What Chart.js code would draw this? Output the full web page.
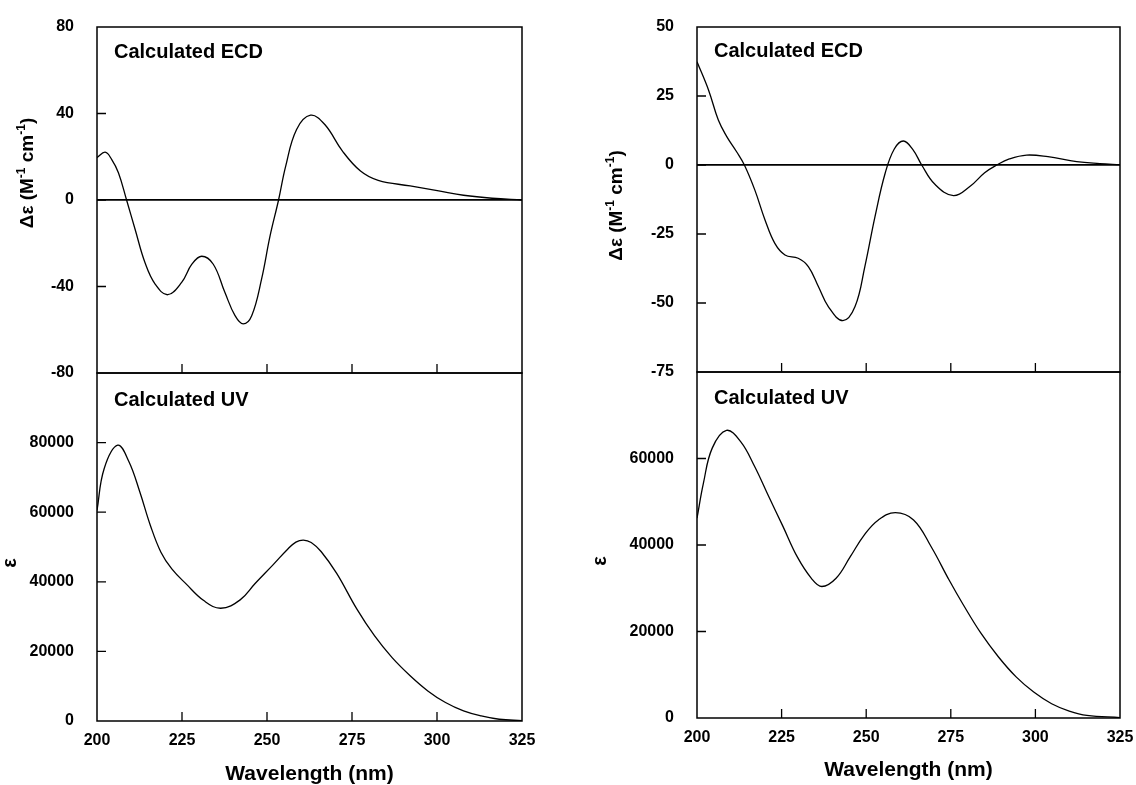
<!DOCTYPE html>
<html>
<head>
<meta charset="utf-8">
<script src="https://cdn.jsdelivr.net/npm/chart.js@4.4.1/dist/chart.umd.min.js"></script>
<style>
  html, body { margin: 0; padding: 0; background: #fff; }
  body { width: 1136px; height: 785px; position: relative; overflow: hidden; }
  canvas { position: absolute; top: 0; }
</style>
</head>
<body>
<canvas id="ecd-izq" width="560" height="785" style="left:0"></canvas>
<canvas id="uv-izq" width="560" height="785" style="left:0"></canvas>
<canvas id="ecd-der" width="576" height="785" style="left:560px"></canvas>
<canvas id="uv-der" width="576" height="785" style="left:560px"></canvas>
<script>
var lambdaEcdIzq = [200, 202.4, 204.3, 206.3, 208.7, 211.2, 214.1, 217.1, 220.8, 224.9, 227.9, 230.8, 234.2, 237.6, 240.6, 243.0, 245.5, 248.4, 250.9, 253.4, 255.5, 258.7, 262.8, 267.0, 272.2, 277.5, 282.7, 292.1, 300.5, 307.8, 316.2, 325];
var ecdIzq = [19.6, 22.1, 18.8, 12.6, 0, -13.5, -28.9, -38.9, -43.8, -38.1, -29.7, -26.0, -29.7, -42.7, -53.5, -57.3, -53.5, -36.6, -16.6, 0, 15.7, 32.6, 39.2, 34.9, 22.6, 13.4, 9.1, 6.5, 4.2, 2.2, 0.8, 0];

var lambdaUvIzq = [200, 202.1, 206.1, 209.4, 212.6, 215.7, 218.8, 222.0, 226.2, 231.4, 236.4, 242.1, 246.5, 251.9, 256.0, 258.5, 260.7, 263.0, 265.9, 270.5, 276.4, 281.6, 286.8, 292.1, 297.3, 302.5, 307.8, 313.0, 318.3, 325];
var uvIzq = [60500, 72500, 79250, 74500, 65800, 56200, 48500, 43700, 39400, 34600, 32400, 34800, 39500, 45000, 49300, 51400, 52000, 51300, 48700, 42400, 32200, 24500, 18200, 13000, 8650, 5300, 2900, 1450, 500, 100];

var lambdaEcdDer = [200, 203.4, 206.3, 208.8, 211.7, 214.0, 217.1, 220.1, 223.0, 226.0, 229.9, 232.9, 235.9, 238.8, 243.1, 246.7, 249.6, 252.6, 255.6, 258.3, 261.0, 263.8, 266.4, 270.3, 275.8, 280.8, 285.0, 288.6, 292.3, 297.4, 303.7, 312.2, 319.0, 325];
var ecdDer = [37.4, 27.2, 16.3, 10.3, 4.8, 0, -9.1, -19.9, -28.4, -32.6, -33.8, -36.8, -44.1, -51.3, -56.4, -51.3, -36.8, -18.7, -3.0, 5.8, 8.7, 5.6, 0, -7.0, -11.1, -7.6, -2.8, 0, 2.2, 3.6, 3.0, 1.2, 0.5, 0.1];

var lambdaUvDer = [200, 201.9, 204.5, 208.7, 212.9, 217.0, 221.2, 225.4, 229.6, 233.8, 236.9, 241.1, 245.3, 249.4, 253.6, 258.6, 264.0, 269.2, 274.5, 278.6, 283.9, 289.1, 294.3, 299.5, 304.8, 310.0, 315.2, 325];
var uvDer = [46200, 54300, 62400, 66500, 63900, 58200, 51200, 44300, 37300, 32300, 30400, 32300, 37300, 42300, 45800, 47500, 45800, 39600, 31900, 26300, 19600, 14100, 9500, 6000, 3300, 1600, 600, 100];

/* Marcas del eje X */
var xMin = 200, xMax = 325, xPaso = 25;

/* Titulo del eje Y con superindices */
var tituloEcd = [{t: '\u0394\u03b5 (M'}, {t: '-1', sup: true}, {t: ' cm'}, {t: '-1', sup: true}, {t: ')'}];
var tituloUv = [{t: '\u03b5'}];

Chart.defaults.font.family = '"Liberation Sans", Arial, sans-serif';
Chart.defaults.font.weight = 'bold';
Chart.defaults.color = '#000';

/* Marco, marcas hacia dentro, rotulo del panel y titulo del eje Y */
var decoracion = {
    id: 'decoracion',
    afterDraw: function (chart, args, o) {
        var ctx = chart.ctx, a = chart.chartArea;
        var x = chart.scales.x, y = chart.scales.y;
        ctx.save();
        ctx.strokeStyle = '#000';
        ctx.lineWidth = 1.5;
        ctx.strokeRect(a.left, a.top, a.right - a.left, a.bottom - a.top);
        ctx.lineWidth = 1.3;
        ctx.beginPath();
        x.ticks.forEach(function (t) {
            if (t.value > x.min && t.value < x.max) {
                var p = x.getPixelForValue(t.value);
                ctx.moveTo(p, a.bottom); ctx.lineTo(p, a.bottom - 9);
            }
        });
        y.ticks.forEach(function (t) {
            if (t.value > y.min && t.value < y.max) {
                var p = y.getPixelForValue(t.value);
                ctx.moveTo(a.left, p); ctx.lineTo(a.left + 9, p);
            }
        });
        ctx.stroke();

        ctx.fillStyle = '#000';
        ctx.font = 'bold 20px "Liberation Sans", Arial';
        ctx.textAlign = 'left';
        ctx.textBaseline = 'middle';
        ctx.fillText(o.rotulo, a.left + o.rotuloDx, a.top + o.rotuloDy);

        // titulo vertical
        var grande = o.tamTitulo, chico = Math.round(o.tamTitulo * 0.62);
        var peso = o.pesoTitulo;
        var total = 0;
        o.titulo.forEach(function (p) {
            ctx.font = peso + ' ' + (p.sup ? chico : grande) + 'px "Liberation Sans", Arial';
            p.w = ctx.measureText(p.t).width;
            total += p.w;
        });
        ctx.translate(a.left - o.tituloDx, (a.top + a.bottom) / 2 + o.tituloDy);
        ctx.rotate(-Math.PI / 2);
        ctx.textBaseline = o.baseTitulo;
        var cx = -total / 2;
        o.titulo.forEach(function (p) {
            ctx.font = peso + ' ' + (p.sup ? chico : grande) + 'px "Liberation Sans", Arial';
            ctx.fillText(p.t, cx, p.sup ? -grande * 0.42 : 0);
            cx += p.w;
        });
        ctx.restore();
    }
};

function puntos(xs, ys) {
    return xs.map(function (v, i) { return {x: v, y: ys[i]}; });
}

function crearPanel(id, xs, ys, cfg) {
    var esUv = cfg.tipo === 'uv';
    return new Chart(document.getElementById(id), {
        type: 'line',
        data: {
            datasets: [{
                data: puntos(xs, ys),
                borderColor: '#000',
                borderWidth: 1.3,
                pointRadius: 0,
                fill: false,
                tension: 0.4
            }]
        },
        options: {
            responsive: false,
            animation: false,
            events: [],
            layout: {padding: cfg.padding},
            plugins: {
                legend: {display: false},
                tooltip: {enabled: false},
                decoracion: cfg.deco
            },
            scales: {
                x: {
                    type: 'linear',
                    min: xMin, max: xMax,
                    display: esUv,
                    grid: {display: false},
                    border: {display: false},
                    ticks: {stepSize: xPaso, padding: 2, font: {size: 16, weight: 'bold'}},
                    title: {display: true, text: 'Wavelength (nm)', font: {size: 21, weight: 'bold'}, padding: {top: 0, bottom: cfg.tituloAbajo}},
                    afterFit: function (s) {
                        s.height = cfg.altoX;
                        s.paddingLeft = 0; s.paddingRight = 0;
                    }
                },
                y: {
                    min: cfg.yMin, max: cfg.yMax,
                    grid: {
                        drawTicks: false,
                        lineWidth: 1.7,
                        color: function (c) { return (!esUv && c.tick && c.tick.value === 0) ? '#000' : 'rgba(0,0,0,0)'; }
                    },
                    border: {display: false},
                    ticks: {
                        stepSize: cfg.paso,
                        padding: 23,
                        font: {size: 16, weight: 'bold'},
                        callback: function (v) { return v > cfg.yUltima ? '' : String(v); }
                    },
                    afterFit: function (s) {
                        s.width = cfg.anchoY;
                        s.paddingTop = 0; s.paddingBottom = 0;
                    }
                }
            }
        },
        plugins: [decoracion]
    });
}

crearPanel('ecd-izq', lambdaEcdIzq, ecdIzq, {
    tipo: 'ecd', yMin: -80, yMax: 80, paso: 40, yUltima: 80,
    padding: {left: 0, top: 27, right: 38, bottom: 412}, anchoY: 97, altoX: 0, tituloAbajo: 0,
    deco: {rotulo: 'Calculated ECD', rotuloDx: 17, rotuloDy: 25, titulo: tituloEcd, tamTitulo: 19, pesoTitulo: 'bold', tituloDx: 64, tituloDy: -27, baseTitulo: 'alphabetic'}
});
crearPanel('uv-izq', lambdaUvIzq, uvIzq, {
    tipo: 'uv', yMin: 0, yMax: 100000, paso: 20000, yUltima: 80000,
    padding: {left: 0, top: 373, right: 38, bottom: 0}, anchoY: 97, altoX: 64, tituloAbajo: -2,
    deco: {rotulo: 'Calculated UV', rotuloDx: 17, rotuloDy: 27, titulo: tituloUv, tamTitulo: 20, pesoTitulo: 'bold', tituloDx: 87, tituloDy: 16, baseTitulo: 'middle'}
});
crearPanel('ecd-der', lambdaEcdDer, ecdDer, {
    tipo: 'ecd', yMin: -75, yMax: 50, paso: 25, yUltima: 50,
    padding: {left: 0, top: 27, right: 16, bottom: 413}, anchoY: 137, altoX: 0, tituloAbajo: 0,
    deco: {rotulo: 'Calculated ECD', rotuloDx: 17, rotuloDy: 24, titulo: tituloEcd, tamTitulo: 19, pesoTitulo: 'bold', tituloDx: 75, tituloDy: 6, baseTitulo: 'alphabetic'}
});
crearPanel('uv-der', lambdaUvDer, uvDer, {
    tipo: 'uv', yMin: 0, yMax: 80000, paso: 20000, yUltima: 60000,
    padding: {left: 0, top: 372, right: 16, bottom: 0}, anchoY: 137, altoX: 67, tituloAbajo: 2,
    deco: {rotulo: 'Calculated UV', rotuloDx: 17, rotuloDy: 26, titulo: tituloUv, tamTitulo: 20, pesoTitulo: 'bold', tituloDx: 97, tituloDy: 16, baseTitulo: 'middle'}
});
</script>
</body>
</html>
